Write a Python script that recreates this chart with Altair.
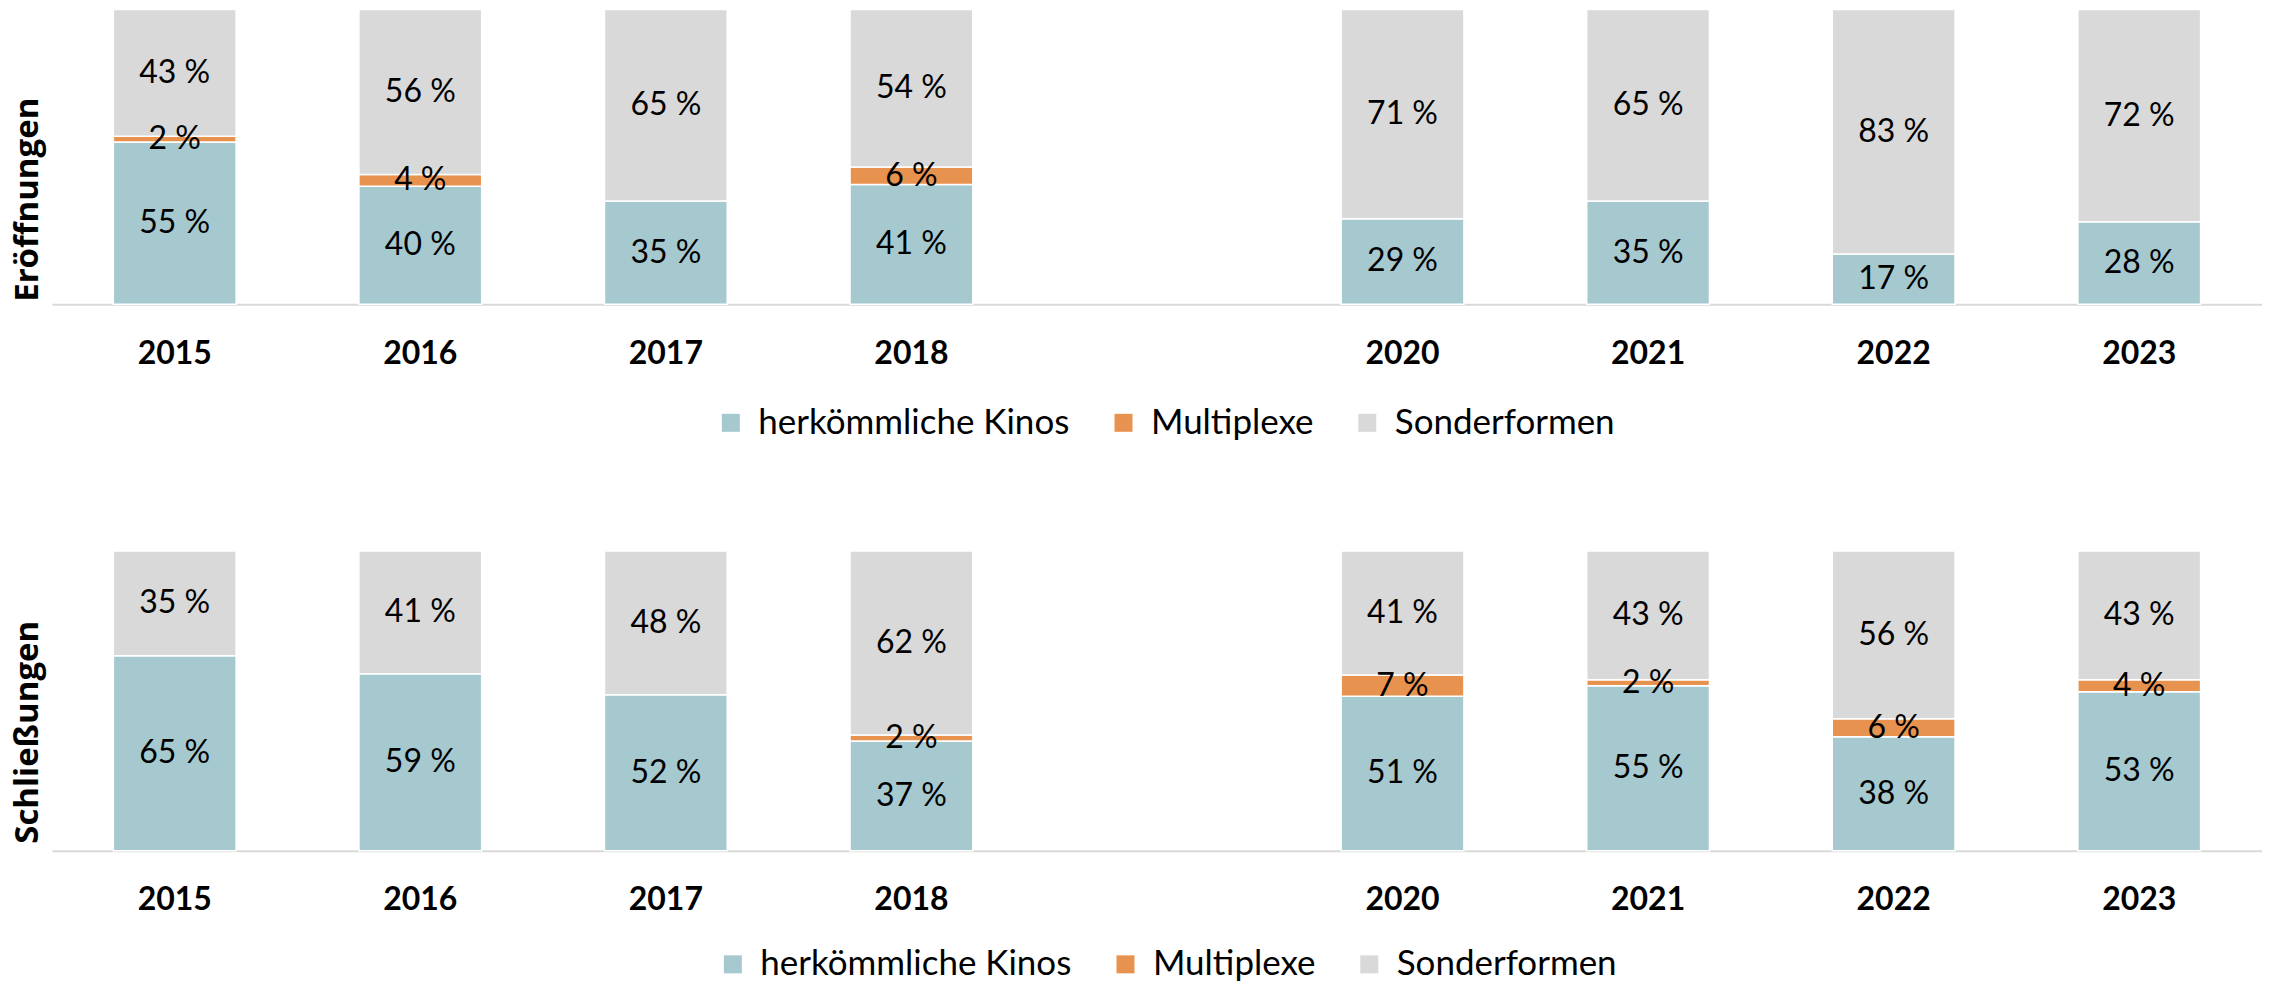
import altair as alt
import pandas as pd

# ---------------- data ----------------
years_axis = ["2015", "2016", "2017", "2018", "2019", "2020", "2021", "2022", "2023"]
data_years = ["2015", "2016", "2017", "2018", "2020", "2021", "2022", "2023"]
categories = ["herkömmliche Kinos", "Multiplexe", "Sonderformen"]
colors = ["#A6C9D0", "#E8924F", "#D9D9D9"]

open_kinos = [55, 40, 35, 41, 29, 35, 17, 28]
open_multi = [2, 4, 0, 6, 0, 0, 0, 0]
open_sonder = [43, 56, 65, 54, 71, 65, 83, 72]

close_kinos = [65, 59, 52, 37, 51, 55, 38, 53]
close_multi = [0, 0, 0, 2, 7, 2, 6, 4]
close_sonder = [35, 41, 48, 62, 41, 43, 56, 43]

PLOT_W = 2212


def make_df(kinos, multi, sonder):
    rows = []
    for i, yr in enumerate(data_years):
        for j, (cat, vals) in enumerate(zip(categories, [kinos, multi, sonder])):
            rows.append({"Jahr": yr, "Typ": cat, "order": j, "Wert": vals[i]})
    return pd.DataFrame(rows)


def panel(df, title, title_y, title_pad, legend_x, legend_y, height):
    base = (
        alt.Chart(df)
        .transform_filter("datum.Wert > 0")
        .transform_stack(
            stack="Wert",
            groupby=["Jahr"],
            as_=["y0", "y1"],
            offset="normalize",
            sort=[alt.SortField("order", order="ascending")],
        )
        .transform_calculate(mid="(datum.y0 + datum.y1) / 2", label="datum.Wert + ' %'")
    )
    x_scale = alt.Scale(domain=years_axis, paddingInner=0.5, paddingOuter=0.25)
    x_enc = alt.X(
        "Jahr:N",
        scale=x_scale,
        axis=alt.Axis(
            title=None,
            labelExpr="datum.value == '2019' ? '' : datum.value",
            ticks=False,
            domainColor="#D9D9D9",
            domainWidth=2,
            labelFont="Lato",
            labelFontWeight="bold",
            labelFontSize=32,
            labelColor="black",
            labelPadding=34,
            labelAngle=0,
        ),
    )
    bars = base.mark_bar(stroke="white", strokeWidth=1.5).encode(
        x=x_enc,
        y=alt.Y(
            "y0:Q",
            scale=alt.Scale(domain=[0, 1]),
            axis=alt.Axis(
                title=title,
                labels=False,
                ticks=False,
                domain=False,
                grid=False,
                titleFont="Open Sans",
                titleFontWeight="bold",
                titleFontSize=33,
                titleColor="black",
                titlePadding=title_pad,
                titleY=title_y,
            ),
        ),
        y2="y1:Q",
        color=alt.Color(
            "Typ:N",
            scale=alt.Scale(domain=categories, range=colors),
            legend=alt.Legend(
                title=None,
                orient="none",
                legendX=legend_x,
                legendY=legend_y,
                direction="horizontal",
                symbolType="square",
                symbolSize=324,
                symbolStrokeWidth=0,
                labelFont="Lato",
                labelFontSize=35,
                labelColor="black",
                labelLimit=0,
                columnPadding=36,
                labelOffset=10,
            ),
        ),
    )
    texts = base.mark_text(font="Lato", fontSize=32, color="black", baseline="middle").encode(
        x=alt.X("Jahr:N", scale=x_scale),
        y=alt.Y("mid:Q", scale=alt.Scale(domain=[0, 1])),
        text="label:N",
    )
    return alt.layer(bars, texts).properties(width=PLOT_W, height=height)


top = panel(make_df(open_kinos, open_multi, open_sonder), "Eröffnungen", 190, 7, 662, 396, 295)
bottom = panel(make_df(close_kinos, close_multi, close_sonder), "Schließungen", 181, 7, 664, 396, 300)

chart = (
    alt.vconcat(top, bottom, spacing=109)
    .resolve_scale(color="independent")
    .properties(padding={"left": 4, "top": 0, "right": 0, "bottom": 0})
    .configure_view(stroke=None)
)

chart.save("out.html", embed_options={"renderer": "svg", "actions": False})
